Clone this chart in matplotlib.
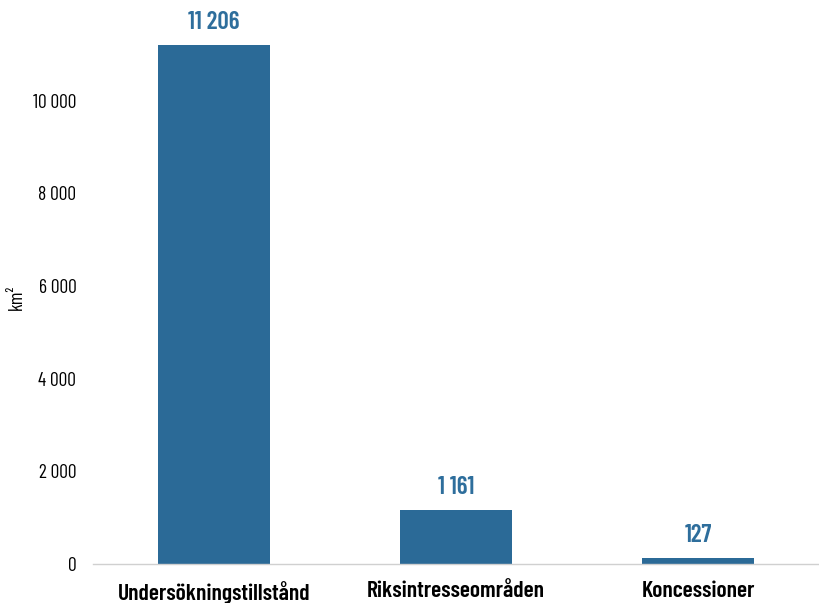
import matplotlib
matplotlib.use("Agg")
import matplotlib.pyplot as plt
from matplotlib.ticker import FuncFormatter

categories = ["Undersökningstillstånd", "Riksintresseområden", "Koncessioner"]
values = [11206, 1161, 127]
yticks = [0, 2000, 4000, 6000, 8000, 10000]

plt.rcParams['font.family'] = ['Barlow Condensed', 'DejaVu Sans']

fig = plt.figure(figsize=(8.19, 6.03), dpi=100)
ax = fig.add_axes([0.1136, 0.0647, 0.8864, 0.922])

color = "#2B6A97"
bars = ax.bar(range(len(categories)), values, width=0.46, color=color, zorder=2)

def fmt(v):
    return f"{int(v):,}".replace(",", " ")

for i, v in enumerate(values):
    ax.annotate(fmt(v), (i, v), xytext=(0, 8), textcoords="offset points",
                ha="center", va="bottom", fontsize=18, fontweight=600, color="#2E6E9C")

ax.set_xlim(-0.5, 2.5)
ax.set_ylim(0, 12000)
ax.set_yticks(yticks)
ax.yaxis.set_major_formatter(FuncFormatter(lambda v, p: fmt(v)))
ax.set_xticks(range(len(categories)))
ax.set_xticklabels(categories, fontsize=17, fontweight=600)
ax.tick_params(axis="both", length=0)
ax.tick_params(axis="y", labelsize=14, pad=12)
ax.tick_params(axis="x", pad=12)
for s in ["top", "right", "left"]:
    ax.spines[s].set_visible(False)
ax.spines["bottom"].set_color("#d0d0d0")
ax.spines["bottom"].set_linewidth(1)
ax.set_ylabel("km²", fontsize=14)
ax.yaxis.set_label_coords(-0.092, 0.48)

fig.savefig("out.png", dpi=100)
